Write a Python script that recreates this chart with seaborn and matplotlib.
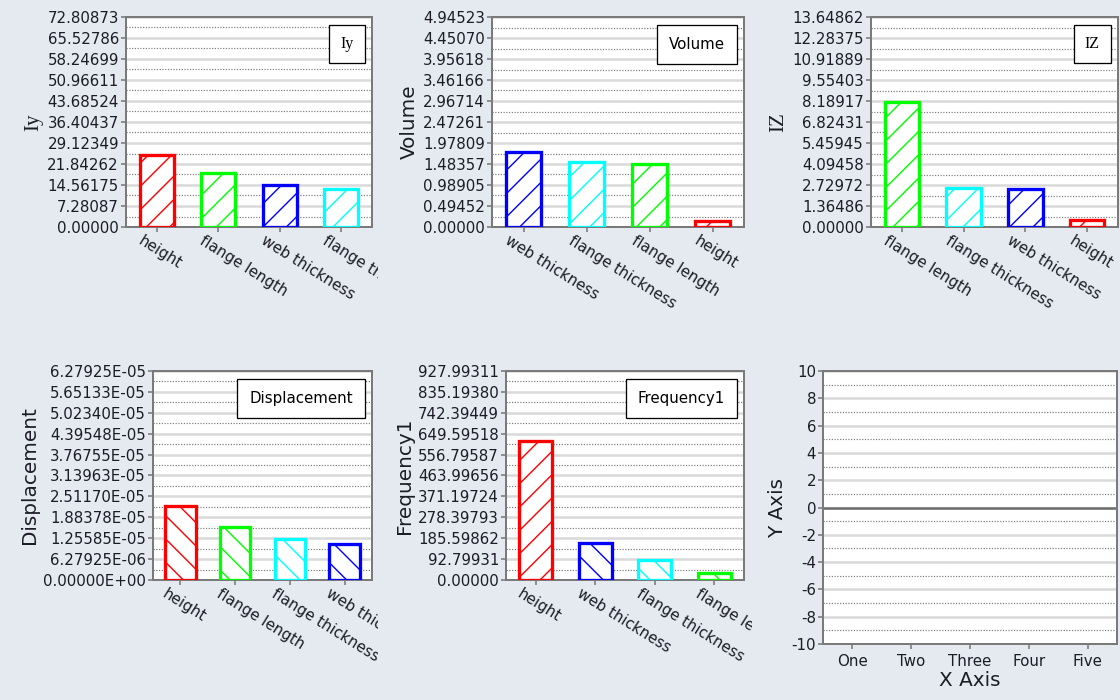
import numpy as np
import pandas as pd
import matplotlib
matplotlib.use("Agg")
import matplotlib.pyplot as plt
import seaborn as sns
from matplotlib.ticker import FixedLocator, FixedFormatter
from matplotlib.transforms import Bbox, TransformedBbox, ScaledTranslation

DPI = 140
W, H = 1120, 700


def pt(px):
    """Convert a size in pixels to points at the figure dpi."""
    return px * 72.0 / DPI


# ---- data -------------------------------------------------------------
iy_params = ["height", "flange length", "web thickness", "flange thickness"]
iy_values = [24.9, 18.8, 14.7, 13.2]
iy_ticks = ["0.00000", "7.28087", "14.56175", "21.84262", "29.12349", "36.40437",
            "43.68524", "50.96611", "58.24699", "65.52786", "72.80873"]

volume_params = ["web thickness", "flange thickness", "flange length", "height"]
volume_values = [1.77, 1.52, 1.48, 0.14]
volume_ticks = ["0.00000", "0.49452", "0.98905", "1.48357", "1.97809", "2.47261",
                "2.96714", "3.46166", "3.95618", "4.45070", "4.94523"]

iz_params = ["flange length", "flange thickness", "web thickness", "height"]
iz_values = [8.12, 2.56, 2.49, 0.43]
iz_ticks = ["0.00000", "1.36486", "2.72972", "4.09458", "5.45945", "6.82431",
            "8.18917", "9.55403", "10.91889", "12.28375", "13.64862"]

disp_params = ["height", "flange length", "flange thickness", "web thickness"]
disp_values = [2.23e-5, 1.58e-5, 1.24e-5, 1.07e-5]
disp_ticks = ["0.00000E+00", "6.27925E-06", "1.25585E-05", "1.88378E-05",
              "2.51170E-05", "3.13963E-05", "3.76755E-05", "4.39548E-05",
              "5.02340E-05", "5.65133E-05", "6.27925E-05"]

freq_params = ["height", "web thickness", "flange thickness", "flange length"]
freq_values = [615.0, 164.0, 90.0, 31.0]
freq_ticks = ["0.00000", "92.79931", "185.59862", "278.39793", "371.19724",
              "463.99656", "556.79587", "649.59518", "742.39449", "835.19380",
              "927.99311"]

empty_categories = ["One", "Two", "Three", "Four", "Five"]
empty_ticks = ["-10", "-8", "-6", "-4", "-2", "0", "2", "4", "6", "8", "10"]

param_colors = {
    "height": "#ff0000",
    "flange length": "#00ff00",
    "web thickness": "#0000ff",
    "flange thickness": "#00ffff",
}

# ---- style ------------------------------------------------------------
BG = "#e4eaef"
TEXT = "#1c1c28"
SPINE = "#7a7a7a"

sns.set_theme(style="ticks", rc={
    "figure.facecolor": BG,
    "axes.facecolor": "white",
    "axes.edgecolor": SPINE,
    "axes.linewidth": pt(2),
    "xtick.color": SPINE,
    "ytick.color": SPINE,
    "xtick.labelcolor": TEXT,
    "ytick.labelcolor": TEXT,
    "axes.labelcolor": TEXT,
    "hatch.linewidth": pt(1.4),
})
plt.rcParams["font.family"] = ["DejaVu Sans"]

fig = plt.figure(figsize=(W / DPI, H / DPI), dpi=DPI)

TICK_FS = pt(15)
LABEL_FS = pt(20)
SERIF = ["Liberation Serif", "DejaVu Serif"]
SANS = ["DejaVu Sans"]


def add_axes(left, top, right, bottom):
    return fig.add_axes([left / W, 1 - bottom / H, (right - left) / W, (bottom - top) / H])


def style_grid(ax, tick_labels):
    major = np.array([float(s) for s in tick_labels])
    minor = (major[:-1] + major[1:]) / 2
    ax.yaxis.set_major_locator(FixedLocator(major))
    ax.yaxis.set_major_formatter(FixedFormatter(tick_labels))
    ax.yaxis.set_minor_locator(FixedLocator(minor))
    ax.set_ylim(major[0], major[-1])
    ax.grid(which="major", axis="y", color="#d9d9d9", lw=pt(2.5), ls="-")
    ax.grid(which="minor", axis="y", color="#7c7c7c", lw=pt(1.2), ls=(0, (1, 1.3)))
    ax.grid(which="both", axis="x", visible=False)
    ax.set_axisbelow(True)
    for s in ax.spines.values():
        s.set_visible(True)
        s.set_color(SPINE)
        s.set_linewidth(pt(2))
    ax.tick_params(which="minor", length=0)
    ax.tick_params(which="major", length=pt(5), width=pt(1.6), labelsize=TICK_FS, pad=pt(2))


def title_box(ax, text, family, size, pad):
    off = ScaledTranslation(-(7 + pad * size) / DPI, -(8 + pad * size) / DPI,
                            fig.dpi_scale_trans)
    ax.text(1, 1, text, transform=ax.transAxes + off, ha="right", va="top",
            fontsize=pt(size), family=family, color="black", zorder=10,
            bbox=dict(boxstyle=f"square,pad={pad}", fc="white", ec="black", lw=pt(1.3)))


def bar_panel(rect, params, values, hatches, tick_labels, name, family, clip_x,
              label_size=20, box_size=15, box_pad=0.8):
    ax = add_axes(*rect)
    df = pd.DataFrame({"parameter": params, "value": values})
    sns.barplot(data=df, x="parameter", y="value", hue="parameter",
                palette=param_colors, width=0.56, errorbar=None,
                legend=False, ax=ax)
    for bar, p, h in zip(ax.patches, params, hatches):
        bar.set_facecolor("white")
        bar.set_edgecolor(param_colors[p])
        bar.set_linewidth(pt(3.3))
        bar.set_hatch(h)
        bar.set_zorder(3)
    ax.set_xlim(-0.5, len(params) - 0.5)
    style_grid(ax, tick_labels)
    ax.set_xlabel("")
    ax.set_ylabel(name, fontsize=pt(label_size), family=family, labelpad=pt(4))
    ax.tick_params(axis="x", pad=pt(1))
    clip = TransformedBbox(Bbox([[clip_x[0] / W, 0], [clip_x[1] / W, 1]]), fig.transFigure)
    shift = ScaledTranslation(-13 / DPI, 0, fig.dpi_scale_trans)
    for lab in ax.get_xticklabels():
        lab.set_rotation(-32)
        lab.set_rotation_mode("anchor")
        lab.set_ha("left")
        lab.set_va("top")
        lab.set_fontsize(TICK_FS)
        lab.set_transform(lab.get_transform() + shift)
        lab.set_clip_box(clip)
        lab.set_clip_on(True)
    title_box(ax, name, family, box_size, box_pad)
    return ax


bar_panel((126, 17, 372, 227), iy_params, iy_values, ["//"] * 4,
          iy_ticks, "Iy", SERIF, (0, 378), label_size=21, box_size=16, box_pad=0.7)
bar_panel((492, 17, 744, 227), volume_params, volume_values, ["//"] * 4,
          volume_ticks, "Volume", SANS, (378, 752))
bar_panel((871, 17, 1118, 227), iz_params, iz_values, ["//"] * 4,
          iz_ticks, "IZ", SERIF, (752, 1120), label_size=21, box_size=16, box_pad=0.7)
bar_panel((153, 371, 372, 580), disp_params, disp_values, ["\\\\"] * 4,
          disp_ticks, "Displacement", SANS, (0, 378))
bar_panel((506, 371, 744, 580), freq_params, freq_values, ["//", "\\\\", "\\\\", "\\\\"],
          freq_ticks, "Frequency1", SANS, (378, 752))

# empty placeholder chart with categorical x axis
ax = add_axes(823, 371, 1117, 644)
ax.set_xlim(-0.5, len(empty_categories) - 0.5)
ax.set_xticks(range(len(empty_categories)), empty_categories)
style_grid(ax, empty_ticks)
ax.axhline(0, color="#6e6e6e", lw=pt(2.5), zorder=2)
ax.tick_params(axis="x", pad=pt(5))
ax.set_xlabel("X Axis", fontsize=LABEL_FS, labelpad=pt(2))
ax.set_ylabel("Y Axis", fontsize=LABEL_FS, labelpad=pt(4))

fig.savefig("out.png", dpi=DPI, facecolor=BG)
